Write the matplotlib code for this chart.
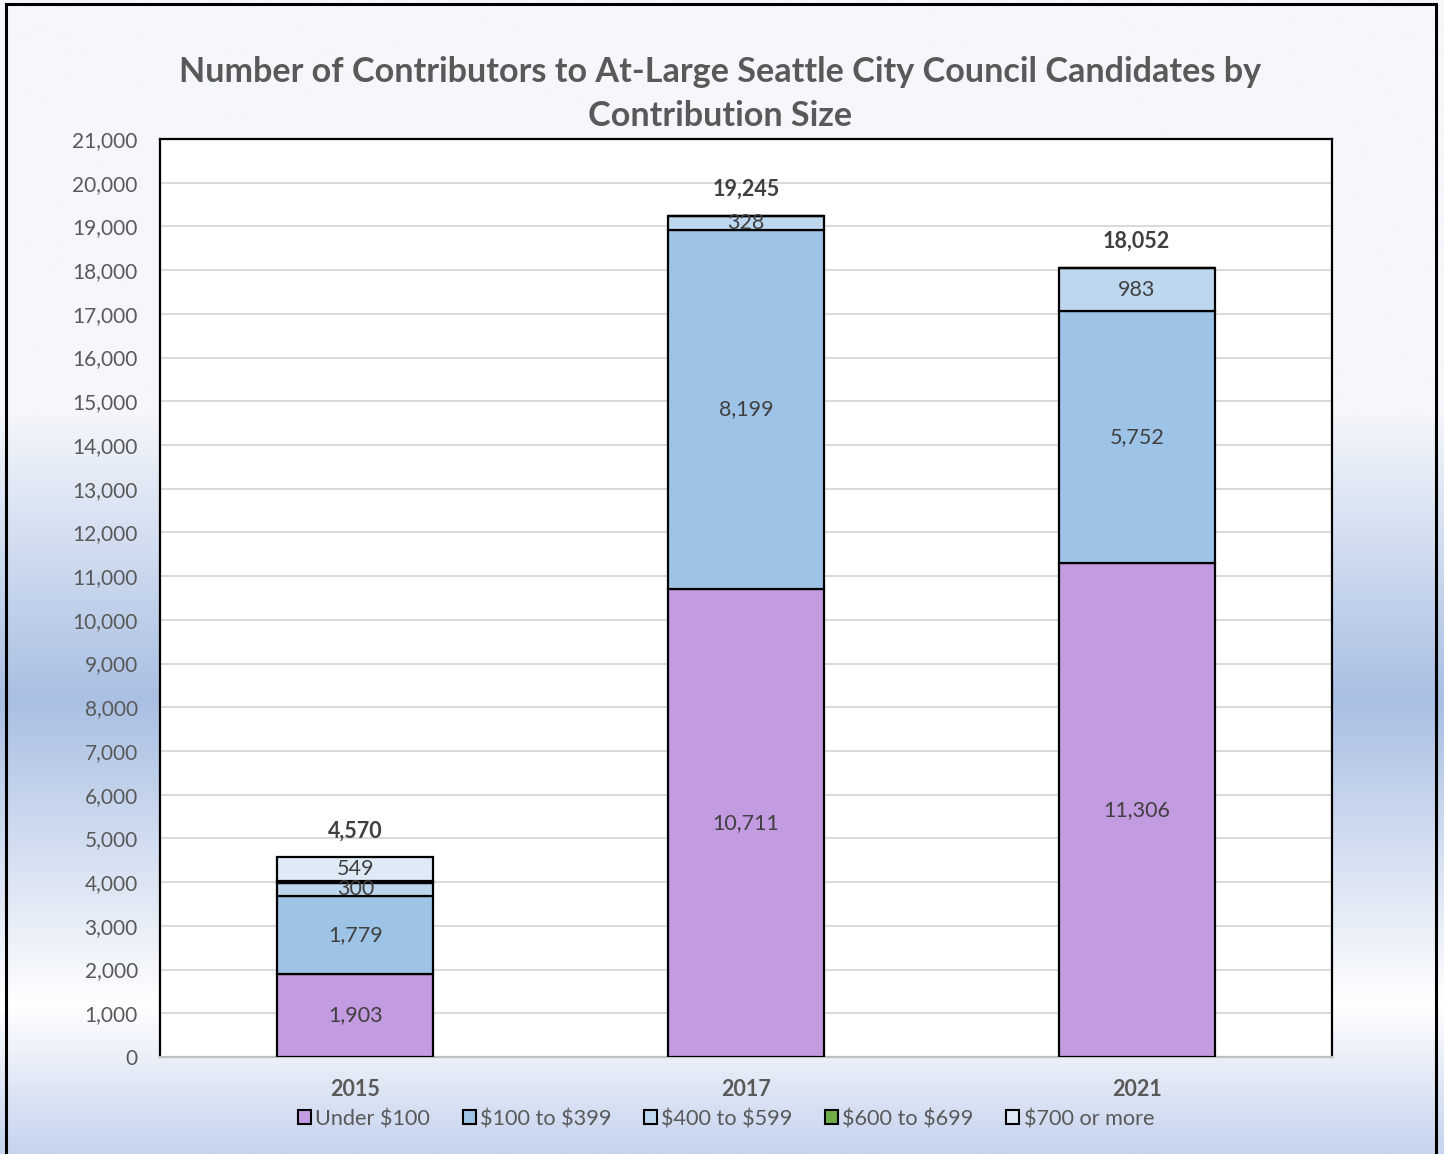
import matplotlib
matplotlib.use("Agg")
import matplotlib.pyplot as plt
import numpy as np
from matplotlib.patches import Rectangle
from matplotlib.colors import LinearSegmentedColormap

years = ["2015", "2017", "2021"]
series_names = ["Under \\$100", "\\$100 to \\$399", "\\$400 to \\$599", "\\$600 to \\$699", "\\$700 or more"]
under_100 = [1903, 10711, 11306]
from_100_399 = [1779, 8199, 5752]
from_400_599 = [300, 328, 983]
from_600_699 = [39, 0, 0]
over_700 = [549, 7, 11]
totals = [4570, 19245, 18052]
y_ticks = list(range(0, 21001, 1000))

series = [under_100, from_100_399, from_400_599, from_600_699, over_700]
colors = ["#C39BE0", "#9DC3E6", "#BDD7EE", "#70AD47", "#DEEBF7"]

plt.rcParams['font.family'] = ['Lato', 'DejaVu Sans']

W, H = 1444, 1154
fig = plt.figure(figsize=(W / 100, H / 100), dpi=100)

# background gradient
bg = fig.add_axes([0, 0, 1, 1], zorder=-10)
cmap = LinearSegmentedColormap.from_list(
    "bg",
    [(0.0, "#F5F7FB"), (410 / H, "#F5F7FB"), (700 / H, "#A9BFE3"),
     (1007 / H, "#FFFFFF"), (1.0, "#C6D4EE")])
grad = np.linspace(0, 1, 600).reshape(-1, 1)
bg.imshow(grad, aspect="auto", cmap=cmap, extent=[0, 1, 0, 1], origin="upper")
bg.set_xlim(0, 1)
bg.set_ylim(0, 1)
bg.axis("off")
bg.add_patch(Rectangle((6 / W, -0.01), (1436 - 6) / W, 1.01 - 4 / H,
                       fill=False, edgecolor="black", linewidth=2.2,
                       transform=bg.transAxes, clip_on=False))

ax = fig.add_axes([160 / W, 1 - 1057 / H, (1332 - 160) / W, (1057 - 139) / H])
ax.set_facecolor("white")
x = np.arange(len(years))
bottom = np.zeros(len(years))
for vals, col, name in zip(series, colors, series_names):
    v = np.array(vals, dtype=float)
    ax.bar(x, v, 0.4, bottom=bottom, color=col, edgecolor="black",
           linewidth=1.6, label=name, zorder=3)
    for xi, val, b in zip(x, v, bottom):
        if val >= 100:
            ax.text(xi, b + val / 2, f"{int(val):,}", ha="center", va="center",
                    fontsize=15.5, color="#404040", zorder=4)
    bottom += v

for xi, t in zip(x, totals):
    ax.text(xi, t + 600, f"{t:,}", ha="center", va="center", fontsize=15.5,
            fontweight="bold", color="#404040", zorder=4)

ax.set_xlim(-0.5, 2.5)
ax.set_ylim(0, 21000)
ax.set_yticks(y_ticks)
ax.set_yticklabels([f"{v:,}" for v in y_ticks], fontsize=15, color="#595959")
ax.set_xticks(x)
ax.set_xticklabels(years, fontsize=15.5, fontweight="bold", color="#595959")
ax.tick_params(axis="x", length=0, pad=16)
ax.tick_params(axis="y", length=0, pad=16)
ax.grid(axis="y", color="#D9D9D9", linewidth=1.4, zorder=0)
ax.set_axisbelow(True)
for s in ["top", "left", "right"]:
    ax.spines[s].set_color("black")
    ax.spines[s].set_linewidth(1.6)
ax.spines["bottom"].set_color("#BFBFBF")
ax.spines["bottom"].set_linewidth(1.6)

handles = [Rectangle((0, 0), 1, 1, facecolor=c, edgecolor="black", linewidth=1.5)
           for c in colors]
leg = fig.legend(handles, series_names, loc="center", ncol=5,
                 bbox_to_anchor=(726 / W, 1 - 1119 / H), frameon=False,
                 fontsize=15.6, handlelength=0.6, handleheight=0.6,
                 handletextpad=0.2, columnspacing=1.5)
for t in leg.get_texts():
    t.set_color("#595959")

fig.text(720 / W, 1 - 94 / H,
         "Number of Contributors to At-Large Seattle City Council Candidates by\nContribution Size",
         ha="center", va="center", fontsize=24.6, fontweight="bold",
         color="#595959", linespacing=1.5)

fig.savefig("out.png", dpi=100)
